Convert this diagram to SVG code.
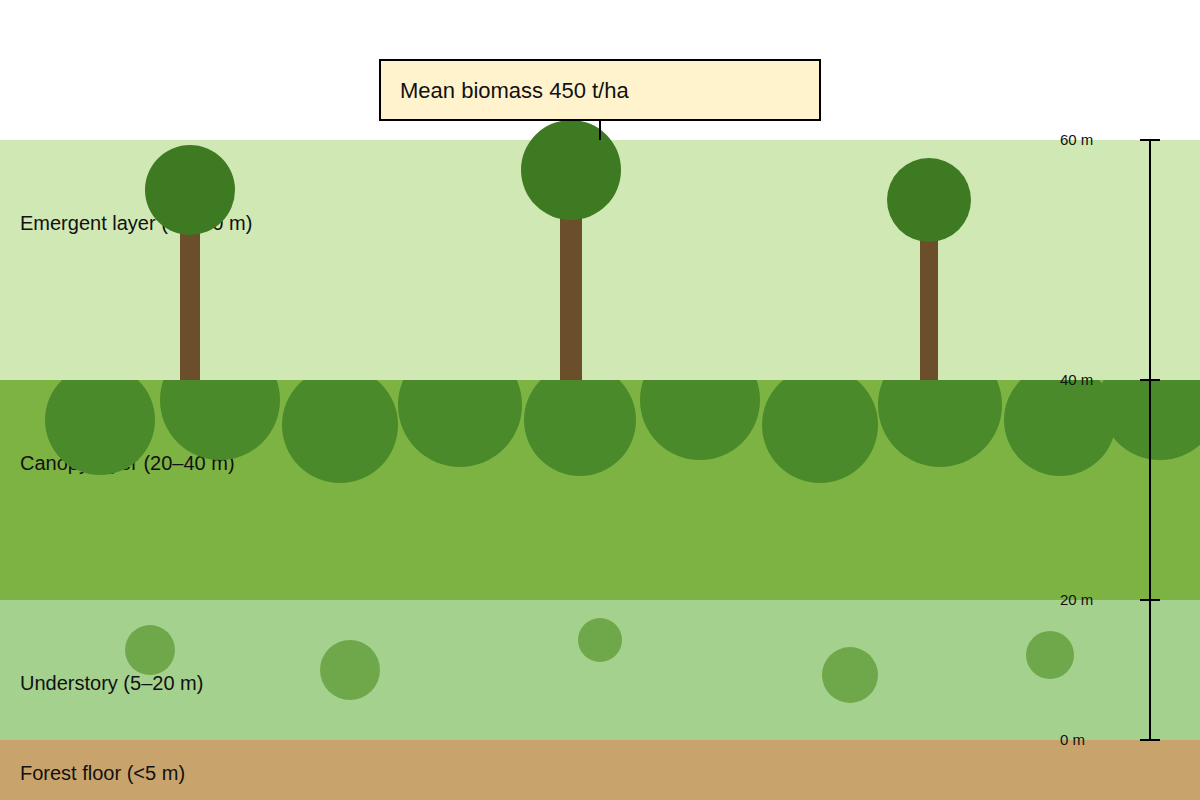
<svg xmlns="http://www.w3.org/2000/svg" width="1200" height="800" viewBox="0 0 1200 800">
<style>
.lbl{font-family:"Liberation Sans",Arial,sans-serif;font-size:20px;fill:#111}
.sc{font-family:"Liberation Sans",Arial,sans-serif;font-size:15px;fill:#111}
.can{fill:#4a8a2a}.crown{fill:#3d7a22}.trunk{fill:#6b4f2a}.bush{fill:#6fa84a}
</style>
<defs><clipPath id="cl"><rect x="0" y="380" width="1200" height="220"/></clipPath></defs>
<rect x="0" y="0" width="1200" height="800" fill="#fff"/>
<rect x="0" y="140" width="1200" height="240" fill="#d0e8b4"/>
<rect x="0" y="380" width="1200" height="220" fill="#7cb342"/>
<rect x="0" y="600" width="1200" height="140" fill="#a5d18e"/>
<rect x="0" y="740" width="1200" height="60" fill="#c8a46c"/>
<text class="lbl" x="20" y="230">Emergent layer (40–60 m)</text>
<text class="lbl" x="20" y="470">Canopy layer (20–40 m)</text>
<text class="lbl" x="20" y="690">Understory (5–20 m)</text>
<text class="lbl" x="20" y="780">Forest floor (&lt;5 m)</text>
<g clip-path="url(#cl)">
<circle class="can" cx="100" cy="420" r="55"/><circle class="can" cx="220" cy="400" r="60"/>
<circle class="can" cx="340" cy="425" r="58"/><circle class="can" cx="460" cy="405" r="62"/>
<circle class="can" cx="580" cy="420" r="56"/><circle class="can" cx="700" cy="400" r="60"/>
<circle class="can" cx="820" cy="425" r="58"/><circle class="can" cx="940" cy="405" r="62"/>
<circle class="can" cx="1060" cy="420" r="56"/><circle class="can" cx="1160" cy="400" r="60"/>
</g>
<g id="tree1"><rect class="trunk" x="180" y="225" width="20" height="155"/><circle class="crown" cx="190" cy="190" r="45"/></g>
<g id="tree2"><rect class="trunk" x="560" y="210" width="22" height="170"/><circle class="crown" cx="571" cy="170" r="50"/></g>
<g id="tree3"><rect class="trunk" x="920" y="235" width="18" height="145"/><circle class="crown" cx="929" cy="200" r="42"/></g>
<circle class="bush" cx="150" cy="650" r="25"/><circle class="bush" cx="350" cy="670" r="30"/>
<circle class="bush" cx="600" cy="640" r="22"/><circle class="bush" cx="850" cy="675" r="28"/>
<circle class="bush" cx="1050" cy="655" r="24"/>
<g id="callout"><rect x="380" y="60" width="440" height="60" fill="#fff3cd" stroke="#000" stroke-width="2"/>
<text x="400" y="98" font-family="Liberation Sans,Arial,sans-serif" font-size="22" fill="#111">Mean biomass 450 t/ha</text>
<line x1="600" y1="120" x2="600" y2="140" stroke="#000" stroke-width="2"/></g>
<g id="scale" stroke="#000" stroke-width="2">
<line x1="1150" y1="140" x2="1150" y2="740"/>
<line x1="1140" y1="140" x2="1160" y2="140"/><line x1="1140" y1="380" x2="1160" y2="380"/>
<line x1="1140" y1="600" x2="1160" y2="600"/><line x1="1140" y1="740" x2="1160" y2="740"/>
</g>
<text class="sc" x="1060" y="145">60 m</text><text class="sc" x="1060" y="385">40 m</text>
<text class="sc" x="1060" y="605">20 m</text><text class="sc" x="1060" y="745">0 m</text>
</svg>
